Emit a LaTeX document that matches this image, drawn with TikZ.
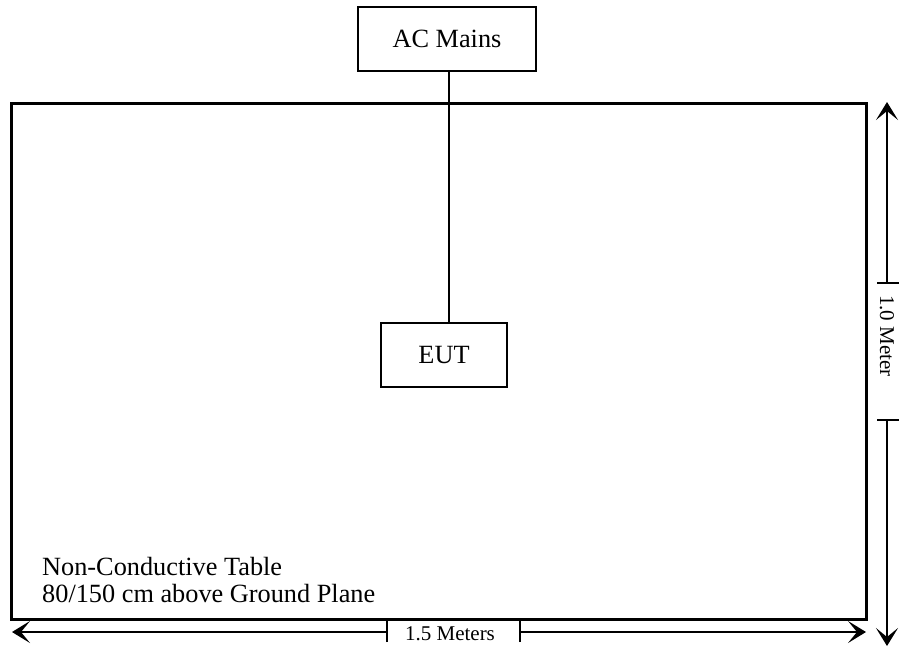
\documentclass[tikz,border=0pt]{standalone}
\usepackage{fontspec}
\setmainfont{Liberation Serif}
\usetikzlibrary{arrows.meta}
\begin{document}
\begin{tikzpicture}[x=1pt,y=-1pt,
  box/.style={draw,line width=1.5pt,minimum width=#1,inner sep=0pt,font=\fontsize{26.3}{30}\selectfont},
  dimline/.style={line width=1.4pt},
  tip/.style={-{Stealth[length=18pt,width=22pt,inset=9pt]}},
  lbl/.style={inner sep=0pt,font=\fontsize{26.3}{30}\selectfont},
  dimlbl/.style={inner sep=0pt,font=\fontsize{21}{24}\selectfont}]
\useasboundingbox (0,0) rectangle (899,649);
% table
\draw[line width=3pt] (11.5,103) rectangle (866,619);
% boxes
\node[box=178pt,minimum height=64pt] (ac) at (447,39) {AC Mains};
\node[box=126pt,minimum height=64pt] (eut) at (444,355) {EUT};
\coordinate (acb) at (449,71);
\coordinate (eutt) at (449,323);
\draw[line width=1.5pt] (acb) -- (eutt);
% texts
\node[lbl,anchor=base west] (t1) at (42,575) {Non-Conductive Table};
\node[lbl,anchor=base west] (t2) at (42,602) {80/150 cm above Ground Plane};
% horizontal dimension
\coordinate (hl) at (387,632);
\coordinate (hr) at (520,632);
\coordinate (hlt) at (12,632);
\coordinate (hrt) at (866,632);
\draw[dimline,tip] (hl) -- (hlt);
\draw[dimline,tip] (hr) -- (hrt);
\draw[dimline] ([yshift=-10pt]hl) -- ([yshift=11pt]hl);
\draw[dimline] ([yshift=-10pt]hr) -- ([yshift=11pt]hr);
\node[dimlbl,anchor=base] (hlab) at (450,640) {1.5 Meters};
% vertical dimension
\coordinate (vt) at (887,283);
\coordinate (vb) at (887,420);
\coordinate (vtt) at (887,102);
\coordinate (vbt) at (887,646);
\draw[dimline,tip] (vt) -- (vtt);
\draw[dimline,tip] (vb) -- (vbt);
\draw[dimline] ([xshift=-10pt]vt) -- ([xshift=12pt]vt);
\draw[dimline] ([xshift=-10pt]vb) -- ([xshift=12pt]vb);
\node[dimlbl,rotate=-90] (vlab) at (887,336) {1.0 Meter};
\end{tikzpicture}
\end{document}
